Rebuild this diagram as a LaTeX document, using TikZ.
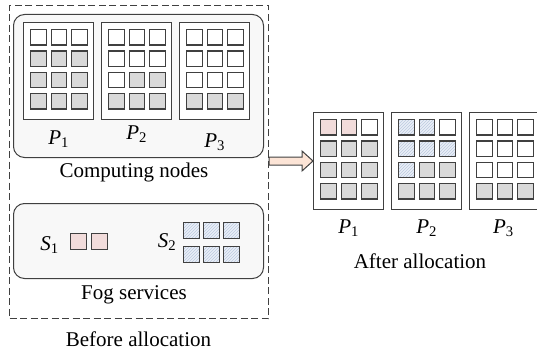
\documentclass[tikz,border=0pt]{standalone}
\usepackage{fontspec}
\setmainfont{Liberation Serif}
\usetikzlibrary{calc,patterns}

\definecolor{edge}{HTML}{404040}
\definecolor{cellgray}{HTML}{D9D9D9}
\definecolor{cellpink}{HTML}{F2DCDB}
\definecolor{cellblue}{HTML}{E9EFF7}
\definecolor{hatchblue}{HTML}{BCCADF}
\definecolor{boxgray}{HTML}{F8F8F8}
\definecolor{arrowpeach}{HTML}{FCE4D6}

\tikzset{
  panelbox/.style={draw=edge, line width=1.2pt, fill=white, anchor=north west,
    minimum width=70pt, minimum height=97pt, inner sep=0pt},
  groupbox/.style={draw=edge, line width=1pt, fill=boxgray, rounded corners=11pt,
    anchor=north west, inner sep=0pt},
  cell/.style={draw=edge, line width=1.3pt, anchor=north west,
    minimum size=15.5pt, inner sep=0pt},
  cellw/.style={fill=white},
  cellg/.style={fill=cellgray},
  cellp/.style={fill=cellpink},
  cellb/.style={preaction={fill=cellblue}, pattern=north east lines,
    pattern color=hatchblue},
  caption/.style={anchor=base, inner sep=0pt},
  bigarrow/.style={draw=edge, line width=1pt, fill=arrowpeach, line join=miter},
}

\newcommand\idx[2]{\textit{#1}\textsubscript{#2}}

% one processor: a white frame holding 4 rows of 3 cells
\newcommand\drawpanel[5][]{%
  \node[panelbox,#1] (#2) at (#3,#4) {};
  \foreach \r/\a/\b/\c in {#5} {
    \node[cell,cell\a] (#2-\r-1) at ({#3+7},{#4+7+21.3*\r}) {};
    \node[cell,cell\b] (#2-\r-2) at ({#3+27.5},{#4+7+21.3*\r}) {};
    \node[cell,cell\c] (#2-\r-3) at ({#3+48},{#4+7+21.3*\r}) {};
  }%
}

\begin{document}
\begin{tikzpicture}[x=1pt, y=-1pt,
    nodes={font=\fontsize{21}{24}\selectfont}]
\useasboundingbox (0,0) rectangle (537,358);

% before allocation
\node[draw=edge, line width=1pt, dash pattern=on 7pt off 3.5pt, anchor=north west,
  minimum width=259pt, minimum height=313pt, inner sep=0pt] (before) at (9,5) {};
\node[groupbox, minimum width=250pt, minimum height=143pt] (compute) at (13,14) {};
\node[groupbox, minimum width=250pt, minimum height=75pt] (fog) at (13,203) {};

\drawpanel{l1}{23}{22}{0/w/w/w, 1/g/g/g, 2/g/g/g, 3/g/g/g}
\drawpanel{l2}{101}{22}{0/w/w/w, 1/w/w/w, 2/w/g/g, 3/g/g/g}
\drawpanel{l3}{179}{22}{0/w/w/w, 1/w/w/w, 2/w/w/w, 3/g/g/g}

\foreach \p/\i/\dy in {l1/1/24, l2/2/19, l3/3/27}
  \node[caption] (\p-lab) at ($(\p.south)+(0,\dy)$) {\idx{P}{\i}};

\node[caption] (compute-lab) at (134,177) {Computing nodes};

% services waiting in the fog layer
\node[caption] (s1-lab) at (49.5,250) {\idx{S}{1}};
\foreach \c in {0,1}
  \node[cell,cellp] (s1-\c) at ({70+21*\c},233) {};
\node[caption] (s2-lab) at (167,247) {\idx{S}{2}};
\foreach \r in {0,1}
  \foreach \c in {0,1,2}
    \node[cell,cellb] (s2-\r-\c) at ({183+20*\c},{222+24*\r}) {};

\node[caption] (fog-lab) at (134,299) {Fog services};
\node[caption] (before-lab) at (138.5,346) {Before allocation};

% after allocation
\drawpanel{r1}{313}{112}{0/p/p/w, 1/g/g/g, 2/g/g/g, 3/g/g/g}
\drawpanel{r2}{391}{112}{0/b/b/w, 1/b/b/b, 2/b/g/g, 3/g/g/g}
\drawpanel[minimum width=67.5pt]{r3}{469}{112}{0/w/w/w, 1/w/w/w, 2/w/w/w, 3/g/g/g}

\foreach \p/\i in {r1/1, r2/2, r3/3}
  \node[caption] (\p-lab) at ($(\p.south)+(0,23)$) {\idx{P}{\i}};

\node[caption] (after-lab) at (420,268) {After allocation};

% fat arrow from the fog side to the first processor
\coordinate (arr-tail) at (before.east |- 0,161);
\coordinate (arr-tip) at (r1.west |- arr-tail);
\draw[bigarrow] ($(arr-tail)+(0,-4)$) -- ($(arr-tip)+(-11,-4)$)
  -- ($(arr-tip)+(-11,-10)$) -- (arr-tip) -- ($(arr-tip)+(-11,10)$)
  -- ($(arr-tip)+(-11,4)$) -- ($(arr-tail)+(0,4)$) -- cycle;
\end{tikzpicture}
\end{document}
